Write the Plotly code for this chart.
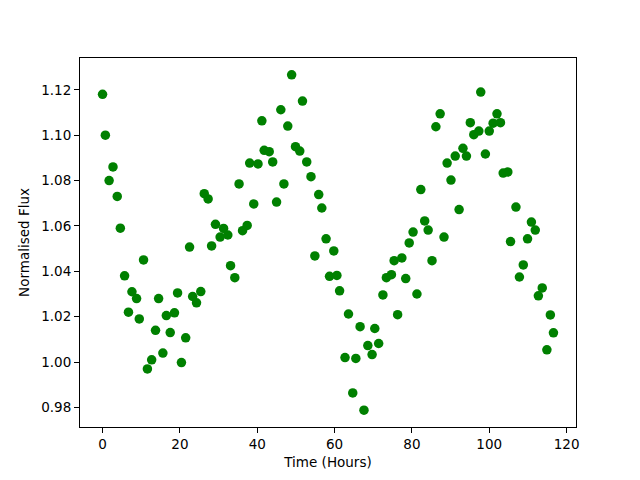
import plotly.graph_objects as go

time_hours = [0.0, 0.73, 1.7, 2.7, 3.8, 4.6, 5.7, 6.7, 7.6, 8.8, 9.5, 10.6, 11.6, 12.7, 13.7, 14.5,
              15.6, 16.5, 17.5, 18.6, 19.4, 20.4, 21.5, 22.5, 23.3, 24.3, 25.4, 26.3, 27.3, 28.2,
              29.2, 30.4, 31.3, 32.4, 33.1, 34.2, 35.3, 36.2, 37.4, 38.05, 39.1, 40.2, 41.2, 41.8,
              43.1, 44.0, 45.0, 46.1, 46.9, 47.9, 48.9, 49.9, 51.0, 51.7, 52.8, 53.9, 54.9, 55.9,
              56.7, 57.8, 58.7, 59.8, 60.6, 61.3, 62.7, 63.6, 64.7, 65.5, 66.6, 67.6, 68.6, 69.7,
              70.4, 71.4, 72.5, 73.4, 74.7, 75.4, 76.3, 77.4, 78.4, 79.3, 80.3, 81.3, 82.3, 83.3,
              84.2, 85.2, 86.2, 87.3, 88.3, 89.1, 90.1, 91.2, 92.2, 93.2, 94.1, 95.1, 96.0, 97.3,
              97.8, 99.0, 100.0, 101.0, 102.0, 102.9, 103.6, 104.8, 105.5, 106.9, 107.8, 108.8,
              109.9, 110.9, 111.9, 112.7, 113.7, 114.9, 115.8, 116.6]

flux = [1.118, 1.100, 1.080, 1.086, 1.073, 1.059, 1.038, 1.022, 1.031, 1.028, 1.019, 1.045, 0.997,
        1.001, 1.014, 1.028, 1.004, 1.0205, 1.013, 1.0217, 1.0305, 0.9998, 1.0107, 1.0507, 1.0289,
        1.0261, 1.0311, 1.0742, 1.0719, 1.0512, 1.0607, 1.0551, 1.0589, 1.0560, 1.0425, 1.0372,
        1.0785, 1.0579, 1.0602, 1.0877, 1.0697, 1.0873, 1.1063, 1.0933, 1.0927, 1.0882, 1.0705,
        1.1112, 1.0785, 1.1040, 1.1266, 1.0949, 1.0930, 1.1150, 1.0882, 1.0817, 1.0468, 1.0738,
        1.0679, 1.0543, 1.0378, 1.0490, 1.0382, 1.0314, 1.0020, 1.0212, 0.9864, 1.0016, 1.0156,
        0.9788, 1.0073, 1.0033, 1.0148, 1.0082, 1.0296, 1.0372, 1.0385, 1.0447, 1.0209, 1.0459,
        1.0368, 1.0525, 1.0573, 1.0300, 1.0760, 1.0622, 1.0582, 1.0447, 1.1037, 1.1094, 1.0551,
        1.0877, 1.0802, 1.0908, 1.0672, 1.0942, 1.0908, 1.1055, 1.1002, 1.1018, 1.1190, 1.0917,
        1.1018, 1.1053, 1.1094, 1.1055, 1.0833, 1.0838, 1.0531, 1.0683, 1.0375, 1.0428, 1.0543,
        1.0617, 1.0582, 1.0292, 1.0327, 1.0054, 1.0208, 1.0129]

x_ticks = [0, 20, 40, 60, 80, 100, 120]
y_ticks = [0.98, 1.00, 1.02, 1.04, 1.06, 1.08, 1.10, 1.12]

fig = go.Figure()
fig.add_trace(go.Scatter(x=time_hours, y=flux, mode="markers",
                         marker=dict(color="#008000", size=9.5, line=dict(width=0))))

axis_common = dict(showgrid=False, zeroline=False, showline=True, linecolor="black",
                   linewidth=1, mirror=True, ticks="outside", ticklen=5, tickwidth=1,
                   tickcolor="black", tickfont=dict(family="DejaVu Sans", size=13.5, color="black"))

fig.update_layout(
    width=640, height=480,
    margin=dict(l=80, r=64, t=58, b=53, autoexpand=False),
    paper_bgcolor="white", plot_bgcolor="white",
    showlegend=False,
    font=dict(family="DejaVu Sans", size=13.5, color="black"),
    xaxis=dict(range=[-5.83, 122.43], tickvals=x_ticks, ticktext=[str(v) for v in x_ticks],
               title=dict(text="Time (Hours)", standoff=6,
                          font=dict(family="DejaVu Sans", size=13.5, color="black")),
               **axis_common),
    yaxis=dict(range=[0.9714, 1.1340], tickvals=y_ticks, ticktext=[f"{v:.2f}" for v in y_ticks],
               title=dict(text="Normalised Flux", standoff=8,
                          font=dict(family="DejaVu Sans", size=13.5, color="black")),
               **axis_common),
)

fig.write_html("out.html", config={"displayModeBar": False},
               post_script="document.body.style.margin='0';")
